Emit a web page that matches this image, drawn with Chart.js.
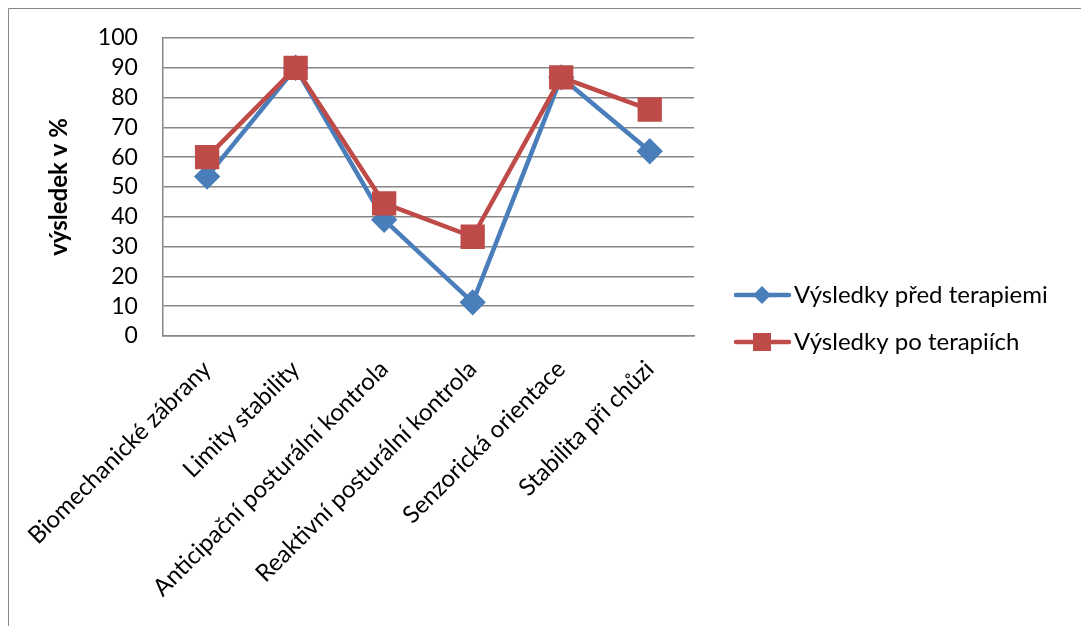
<!DOCTYPE html>
<html><head><meta charset="utf-8">
<script src="https://cdn.jsdelivr.net/npm/chart.js@4/dist/chart.umd.min.js"></script>
<style>html,body{margin:0;padding:0;background:#fff}#w{width:1081px;height:626px}</style>
</head><body><div id="w"><canvas id="c"></canvas></div>
<script>
const categories = ["Biomechanické zábrany","Limity stability","Anticipační posturální kontrola","Reaktivní posturální kontrola","Senzorická orientace","Stabilita při chůzi"];
const seriesNames = ["Výsledky před terapiemi","Výsledky po terapiích"];
const beforeValues = [53.5, 90, 39, 11.3, 86.8, 62];
const afterValues = [60, 90, 44.5, 33.3, 86.8, 76];
const yTicks = [0,10,20,30,40,50,60,70,80,90,100];

const FONT = "Lato";
const borderPlugin = {
  id:'outer',
  beforeDraw(chart){
    const ctx = chart.ctx;
    ctx.save();
    ctx.strokeStyle = '#868686'; ctx.lineWidth = 1;
    ctx.beginPath();
    ctx.moveTo(8.5, 626); ctx.lineTo(8.5, 8.5); ctx.lineTo(1081, 8.5);
    ctx.stroke();
    ctx.restore();
  }
};
const legendPlugin = {
  id:'customLegend',
  afterDraw(chart){
    const ctx = chart.ctx;
    ctx.save();
    const ys = [295, 342];
    chart.data.datasets.forEach((ds,i)=>{
      const y = ys[i];
      ctx.strokeStyle = ds.borderColor; ctx.lineWidth = ds.borderWidth; ctx.lineCap='round';
      ctx.beginPath(); ctx.moveTo(736,y); ctx.lineTo(789,y); ctx.stroke();
      ctx.fillStyle = ds.pointBackgroundColor;
      ctx.beginPath();
      if (ds.pointStyle === 'rectRot') {
        const r = 9;
        ctx.moveTo(762,y-r); ctx.lineTo(762+r,y); ctx.lineTo(762,y+r); ctx.lineTo(762-r,y); ctx.closePath();
      } else {
        ctx.rect(762-9, y-9, 18, 18);
      }
      ctx.fill();
      ctx.fillStyle = '#000';
      ctx.font = `24px ${FONT}`;
      ctx.textBaseline = 'middle';
      ctx.fillText(ds.label, 794, y);
    });
    ctx.restore();
  }
};

new Chart(document.getElementById('c'), {
  type:'line',
  data:{
    labels: categories,
    datasets:[
      {label:seriesNames[0], data:beforeValues, order:1, borderColor:'#4A7EBB', backgroundColor:'#4A7EBB', pointBackgroundColor:'#4A7EBB', pointBorderColor:'#4A7EBB', borderWidth:4.5, pointStyle:'rectRot', pointRadius:10, pointHoverRadius:10, tension:0},
      {label:seriesNames[1], data:afterValues, order:0, borderColor:'#BE4B48', backgroundColor:'#BE4B48', pointBackgroundColor:'#BE4B48', pointBorderColor:'#BE4B48', borderWidth:4.5, pointStyle:'rect', pointRadius:14, pointHoverRadius:14, tension:0}
    ]
  },
  options:{
    responsive:true, maintainAspectRatio:false, animation:false,
    layout:{padding:{left:0, top:38, right:387, bottom:0}},
    plugins:{legend:{display:false}, tooltip:{enabled:false}},
    scales:{
      x:{
        offset:true,
        grid:{display:false, drawTicks:false},
        border:{display:true, color:'#868686', width:1.5},
        ticks:{color:'#000', font:{family:FONT, size:24}, minRotation:45, maxRotation:45, padding:19, autoSkip:false},
        afterFit(s){ s.height = 290; }
      },
      y:{
        min:0, max:100,
        afterBuildTicks(s){ s.ticks = yTicks.map(v=>({value:v})); },
        grid:{color:'#868686', lineWidth:1.5, drawTicks:false},
        border:{display:true, color:'#868686', width:1.5},
        ticks:{color:'#000', font:{family:FONT, size:23, lineHeight:1}, padding:25, autoSkip:false},
        title:{display:true, text:'výsledek v %', color:'#000', font:{family:FONT, size:24, weight:'bold'}, padding:{top:44,bottom:0}},
        afterFit(s){ s.width = 162; }
      }
    }
  },
  plugins:[borderPlugin, legendPlugin]
});
</script></body></html>
